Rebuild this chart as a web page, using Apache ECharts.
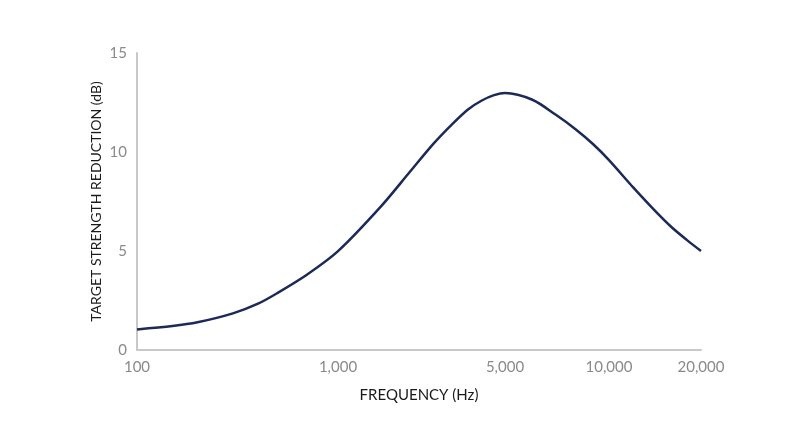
<!DOCTYPE html>
<html>
<head>
<meta charset="utf-8">
<script src="https://cdn.jsdelivr.net/npm/echarts@6/dist/echarts.min.js"></script>
<style>
  html, body { margin: 0; padding: 0; background: #fff; }
  #chart { width: 800px; height: 447px; }
</style>
</head>
<body>
<div id="chart"></div>
<script>
// frequency ticks shown on the x axis
const freqTicks = [100, 1000, 5000, 10000, 20000]
// where each tick sits along the axis (0 = left end, 1 = right end); the axis is not a true log scale
const tickPlace = [0, 0.3564, 0.6525, 0.8369, 1]

// curve samples
const freqs = [100, 150, 200, 300, 400, 500, 700, 1000, 1500, 2000, 2500, 3000, 3500, 4000, 4500,
  5000, 6000, 7000, 8000, 9000, 10000, 12000, 14000, 16000, 18000, 20000]
const reduction = [1.04, 1.21, 1.4, 1.85, 2.34, 2.88, 3.8, 4.99, 7.2, 9.0, 10.4, 11.4, 12.15, 12.6, 12.87,
  12.98, 12.64, 11.89, 11.15, 10.39, 9.59, 8.21, 7.1, 6.21, 5.55, 5.0]

const yTicks = [0, 5, 10, 15]

// map a frequency onto the axis, log-interpolated between neighbouring ticks
const place = (f) => {
  const lf = Math.log10(f)
  for (let i = 0; i < freqTicks.length - 1; i++) {
    const a = Math.log10(freqTicks[i])
    const b = Math.log10(freqTicks[i + 1])
    if (lf <= b || i === freqTicks.length - 2) {
      return tickPlace[i] + (tickPlace[i + 1] - tickPlace[i]) * (lf - a) / (b - a)
    }
  }
}

const chart = echarts.init(document.getElementById('chart'))

const fontFamily = 'Lato, "Open Sans", sans-serif'

const option = {
  animation: false,
  grid: { left: 137, right: 99, top: 53, bottom: 97 },
  xAxis: {
    type: 'value',
    min: 0,
    max: 1,
    name: 'FREQUENCY (Hz)',
    nameLocation: 'middle',
    nameGap: 38,
    nameMoveOverlap: false,
    nameTextStyle: { color: '#1a1a1a', fontSize: 15, fontFamily },
    axisLine: { show: true, lineStyle: { color: '#c8c8c8', width: 2 } },
    axisTick: { show: false },
    splitLine: { show: false },
    axisLabel: {
      customValues: tickPlace,
      color: '#8a8a8a',
      fontSize: 15,
      fontFamily,
      margin: 10,
      formatter: (v) => {
        const i = tickPlace.findIndex(p => Math.abs(p - v) < 1e-6)
        return i < 0 ? '' : freqTicks[i].toLocaleString('en-US')
      }
    }
  },
  yAxis: {
    type: 'value',
    min: yTicks[0],
    max: yTicks[yTicks.length - 1],
    interval: 5,
    name: 'TARGET STRENGTH REDUCTION (dB)',
    nameLocation: 'middle',
    nameGap: 34,
    nameMoveOverlap: false,
    nameTextStyle: { color: '#1a1a1a', fontSize: 14, fontFamily },
    axisLine: { show: true, lineStyle: { color: '#c8c8c8', width: 2 } },
    axisTick: { show: false },
    splitLine: { show: false },
    axisLabel: { color: '#8a8a8a', fontSize: 15, fontFamily, margin: 10 }
  },
  series: [
    {
      type: 'line',
      smooth: 0.3,
      symbol: 'none',
      lineStyle: { color: '#1c2a57', width: 2.5 },
      data: freqs.map((f, i) => [place(f), reduction[i]])
    }
  ]
}

chart.setOption(option)
</script>
</body>
</html>
